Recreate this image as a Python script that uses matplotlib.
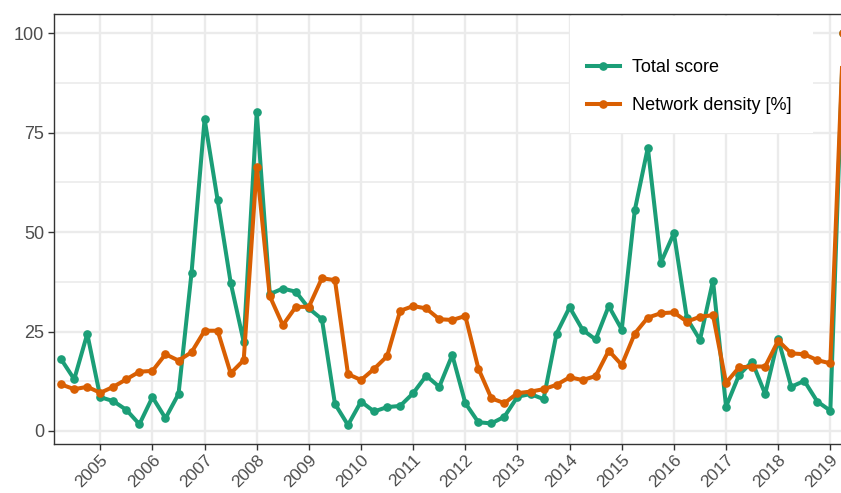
import numpy as np
import matplotlib
matplotlib.use("Agg")
import matplotlib.pyplot as plt
from matplotlib.patches import Rectangle
from matplotlib.ticker import MultipleLocator

plt.rcParams['font.family'] = ['Liberation Sans', 'DejaVu Sans']

# quarterly time axis: 2004 Q2 .. 2019 Q2 (decimal years)
start_year = 2004.25
n_quarters = 61
quarters = start_year + 0.25 * np.arange(n_quarters)

total_score = [
    18.0, 13.0, 24.4, 8.5, 7.5, 5.3, 1.7, 8.5, 3.2, 9.3, 39.8,
    78.4, 58.0, 37.3, 22.4,
    80.2, 34.4, 35.8, 35.0,
    30.8, 28.1, 6.8, 1.5,
    7.4, 4.9, 6.0, 6.3,
    9.5, 13.9, 11.1, 19.1,
    7.0, 2.2, 1.9, 3.6,
    8.6, 9.3, 8.0, 24.5,
    31.1, 25.4, 23.0, 31.4,
    25.5, 55.5, 71.2, 42.3,
    49.7, 28.3, 22.9, 37.8,
    6.1, 14.1, 17.4, 9.3,
    23.1, 11.1, 12.6, 7.4,
    5.1, 100.0,
]

network_density = [
    11.7, 10.5, 11.1, 9.6, 11.1, 13.0, 14.9, 15.1, 19.3, 17.7, 19.8,
    25.2, 25.2, 14.5, 17.8,
    66.4, 33.9, 26.6, 31.2,
    31.2, 38.4, 37.9, 14.3,
    12.8, 15.6, 18.8, 30.2,
    31.4, 30.8, 28.1, 27.9,
    28.9, 15.7, 8.2, 7.0,
    9.5, 9.9, 10.5, 11.6,
    13.5, 12.8, 13.8, 20.2,
    16.6, 24.5, 28.5, 29.6,
    29.8, 27.5, 28.7, 29.1,
    12.1, 16.0, 16.2, 16.2,
    22.7, 19.5, 19.3, 17.8,
    17.0, 100.0,
]

year_ticks = list(range(2005, 2020))
y_ticks = [0, 25, 50, 75, 100]
series_labels = ["Total score", "Network density [%]"]
series_colors = ["#1B9E77", "#D95F02"]

W, H = 841, 493
fig = plt.figure(figsize=(W / 100, H / 100), dpi=100)

x_left_px, x_right_px = 54, 851.2
y_top_px, y_bot_px = 14, 444
ax = fig.add_axes([x_left_px / W, 1 - y_bot_px / H,
                   (x_right_px - x_left_px) / W, (y_bot_px - y_top_px) / H])

for vals, lab, col in zip([total_score, network_density], series_labels, series_colors):
    ax.plot(quarters, vals, color=col, lw=2.9, marker='o', ms=5.2,
            solid_joinstyle='round', label=lab, zorder=3)

ax.set_xlim(2004.112, 2019.4)
ax.set_ylim(-3.27, 104.8)
ax.set_xticks(year_ticks)
ax.set_xticklabels([str(y) for y in year_ticks], rotation=45, ha='right',
                   rotation_mode='anchor')
ax.set_yticks(y_ticks)
ax.yaxis.set_minor_locator(MultipleLocator(12.5))

ax.grid(True, which='major', color='#EBEBEB', lw=1.7, zorder=0)
ax.grid(True, which='minor', axis='y', color='#EBEBEB', lw=1.2, zorder=0)
ax.set_axisbelow(True)

for s in ['left', 'top', 'bottom']:
    ax.spines[s].set_color('#333333')
    ax.spines[s].set_linewidth(1.0)
ax.spines['right'].set_visible(False)

ax.tick_params(axis='both', which='major', length=4, width=1.0, color='#333333',
               labelsize=13, labelcolor='#4D4D4D', pad=3)
ax.tick_params(axis='y', which='minor', length=0)
ax.tick_params(axis='x', labelsize=12.5, pad=2)

# legend box
rect = Rectangle((570 / W, 1 - 133 / H), 243 / W, 117 / H, transform=fig.transFigure,
                 facecolor='white', edgecolor='none', zorder=4)
fig.patches.append(rect)
handles, labels = ax.get_legend_handles_labels()
leg = fig.legend(handles, labels, loc='center left',
                 bbox_to_anchor=(587 / W, 1 - 86.5 / H), frameon=False,
                 fontsize=13, handlelength=1.8, handletextpad=0.7,
                 labelspacing=1.15, borderpad=0, borderaxespad=0)
leg.set_zorder(5)

fig.savefig("out.png", dpi=100)
